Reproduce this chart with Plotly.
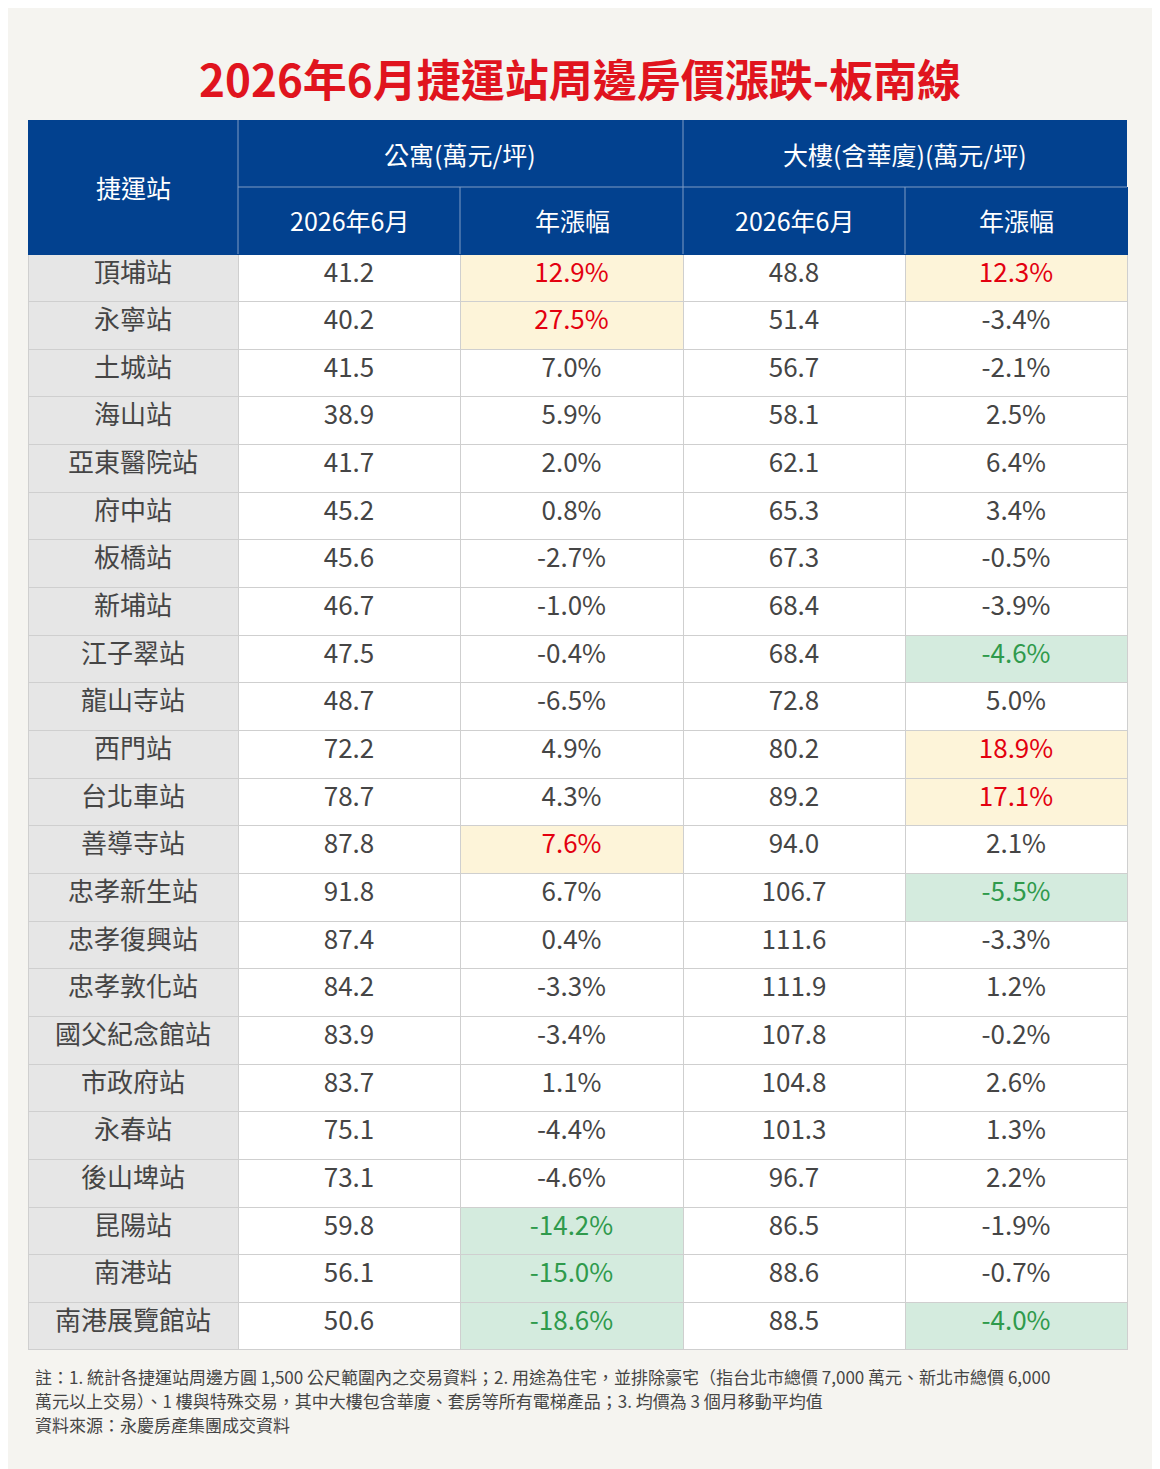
import plotly.graph_objects as go

stations = ["頂埔站","永寧站","土城站","海山站","亞東醫院站","府中站","板橋站","新埔站","江子翠站","龍山寺站",
            "西門站","台北車站","善導寺站","忠孝新生站","忠孝復興站","忠孝敦化站","國父紀念館站","市政府站",
            "永春站","後山埤站","昆陽站","南港站","南港展覽館站"]
apt_price = [41.2,40.2,41.5,38.9,41.7,45.2,45.6,46.7,47.5,48.7,72.2,78.7,87.8,91.8,87.4,84.2,83.9,83.7,75.1,73.1,59.8,56.1,50.6]
apt_chg = [12.9,27.5,7.0,5.9,2.0,0.8,-2.7,-1.0,-0.4,-6.5,4.9,4.3,7.6,6.7,0.4,-3.3,-3.4,1.1,-4.4,-4.6,-14.2,-15.0,-18.6]
bld_price = [48.8,51.4,56.7,58.1,62.1,65.3,67.3,68.4,68.4,72.8,80.2,89.2,94.0,106.7,111.6,111.9,107.8,104.8,101.3,96.7,86.5,88.6,88.5]
bld_chg = [12.3,-3.4,-2.1,2.5,6.4,3.4,-0.5,-3.9,-4.6,5.0,18.9,17.1,2.1,-5.5,-3.3,1.2,-0.2,2.6,1.3,2.2,-1.9,-0.7,-4.0]
sub_headers = ["2026年6月", "年漲幅", "2026年6月", "年漲幅"]
apt_up = ["頂埔站","永寧站","善導寺站"]
apt_down = ["昆陽站","南港站","南港展覽館站"]
bld_up = ["頂埔站","西門站","台北車站"]
bld_down = ["江子翠站","忠孝新生站","南港展覽館站"]

NAVY = "#02418f"; TXT = "#454545"; RED = "#e3000f"; GRN = "#2f9a4c"
YEL = "#fdf4d9"; LGR = "#d4ebde"; GRY = "#e6e6e6"; BG = "#f5f4f0"

def fills(up, down):
    return [YEL if s in up else (LGR if s in down else "white") for s in stations]
def fcols(up, down):
    return [RED if s in up else (GRN if s in down else TXT) for s in stations]

OFF = 8  # page offset of the figure
W, H = 1160, 1469
L, R, T, B = 20, 41, 179, 127
pw, ph = W - L - R, H - T - B
def px(x): return (x - OFF - L) / pw
def py(y): return (H - B - (y - OFF)) / ph

fig = go.Figure(go.Table(
    columnwidth=[210, 222, 223, 222, 222],
    header=dict(values=["", "", "", "", ""],
                fill_color=NAVY, line_color=NAVY, height=67,
                font=dict(color="white", size=25, family="Noto Sans CJK TC"), align="center"),
    cells=dict(values=[stations, [f"{v:.1f}" for v in apt_price], [f"{v:.1f}%" for v in apt_chg],
                       [f"{v:.1f}" for v in bld_price], [f"{v:.1f}%" for v in bld_chg]],
               fill_color=[[GRY]*len(stations), ["white"]*len(stations), fills(apt_up, apt_down),
                           ["white"]*len(stations), fills(bld_up, bld_down)],
               font=dict(color=[[TXT]*len(stations), [TXT]*len(stations), fcols(apt_up, apt_down),
                                [TXT]*len(stations), fcols(bld_up, bld_down)],
                         size=26, family="Noto Sans CJK TC"),
               line_color="#cfcfcf", height=1096/23, align="center"),
    domain=dict(x=[0, 1], y=[0, 1])))

shapes = [dict(type="rect", xref="paper", yref="paper", x0=px(28), x1=px(1127), y0=py(187), y1=py(120),
               fillcolor=NAVY, line_width=0, layer="above")]
lc = "#7f9cc4"
for x, y0 in [(238, 120), (683, 120), (460, 187), (905, 187)]:
    shapes.append(dict(type="line", xref="paper", yref="paper", x0=px(x), x1=px(x), y0=py(y0), y1=py(254),
                       line=dict(color=lc, width=1), layer="above"))
shapes.append(dict(type="line", xref="paper", yref="paper", x0=px(238), x1=px(1127), y0=py(187), y1=py(187),
                   line=dict(color=lc, width=1), layer="above"))

hf = dict(color="white", size=25, family="Noto Sans CJK TC")
ann = [
    dict(text="2026年6月捷運站周邊房價漲跌-板南線", x=px(580), y=py(78), font=dict(color="#e0141e", size=44, family="Noto Sans CJK TC", weight="bold")),
    dict(text="捷運站", x=px(133), y=py(187), font=hf),
    dict(text="公寓(萬元/坪)", x=px(460), y=py(154), font=hf),
    dict(text="大樓(含華廈)(萬元/坪)", x=px(905), y=py(154), font=hf),
]
for cx, t in zip([349, 572, 794, 1016], sub_headers):
    ann.append(dict(text=t, x=px(cx), y=py(220), font=hf))
notes = ["註：1. 統計各捷運站周邊方圓 1,500 公尺範圍內之交易資料；2. 用途為住宅，並排除豪宅（指台北市總價 7,000 萬元、新北市總價 6,000",
         "萬元以上交易）、1 樓與特殊交易，其中大樓包含華廈、套房等所有電梯產品；3. 均價為 3 個月移動平均值",
         "資料來源：永慶房產集團成交資料"]
for i, n in enumerate(notes):
    ann.append(dict(text=n, x=px(33), y=py(1376 + 24*i), xanchor="left",
                    font=dict(color=TXT, size=17, family="Noto Sans CJK TC")))
for a in ann:
    a.update(xref="paper", yref="paper", showarrow=False, yanchor="middle")
    a.setdefault("xanchor", "center")

fig.update_layout(width=W, height=H, margin=dict(l=L, r=R, t=T, b=B), paper_bgcolor=BG,
                  shapes=shapes, annotations=ann)
fig.write_html("out.html")
